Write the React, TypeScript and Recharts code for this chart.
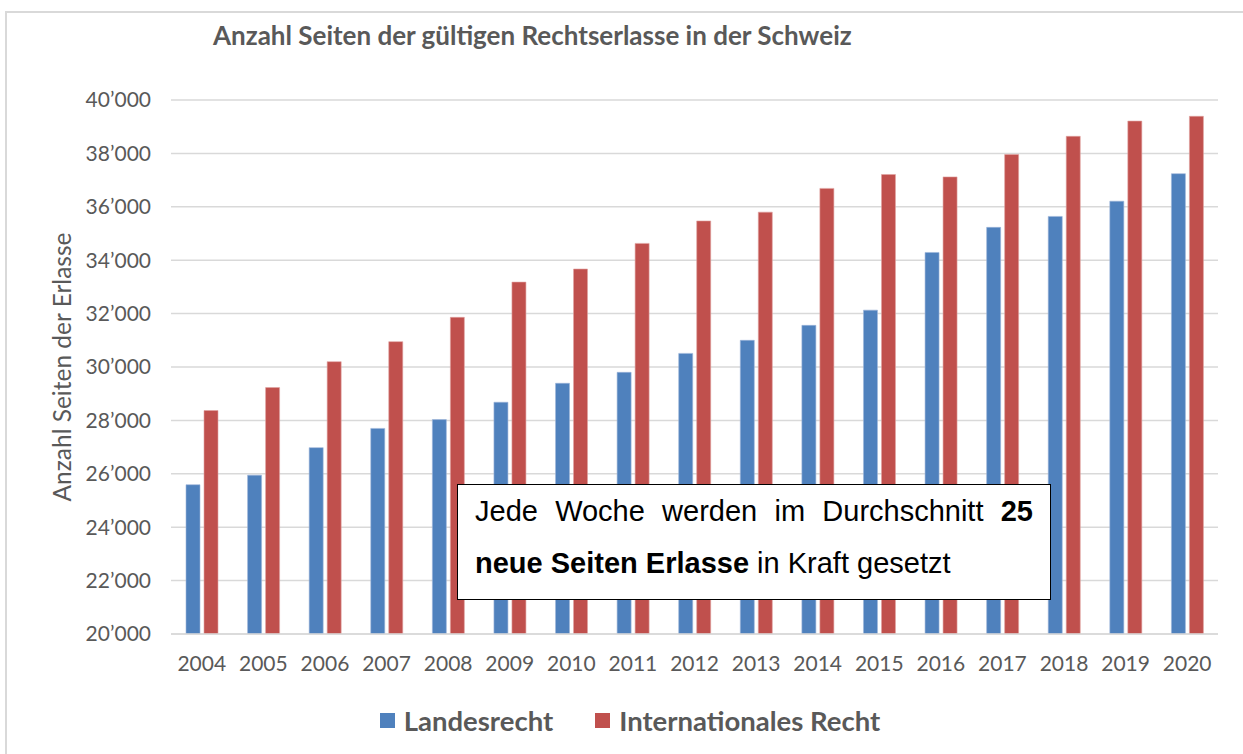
import React from 'react';
import {
  BarChart,
  Bar,
  XAxis,
  YAxis,
  CartesianGrid,
  Legend,
  Label
} from 'recharts';

// Jahre (Kategorien)
const years = ['2004', '2005', '2006', '2007', '2008', '2009', '2010', '2011', '2012', '2013', '2014', '2015', '2016', '2017', '2018', '2019', '2020'];

// Anzahl Seiten Landesrecht
const landesrecht = [25590, 25950, 26980, 27700, 28030, 28680, 29390, 29800, 30510, 31000, 31560, 32130, 34290, 35230, 35640, 36210, 37240];

// Anzahl Seiten Internationales Recht
const internationales = [28370, 29230, 30200, 30950, 31860, 33180, 33670, 34630, 35470, 35800, 36690, 37210, 37120, 37960, 38640, 39210, 39390];

const yTicks = [20000, 22000, 24000, 26000, 28000, 30000, 32000, 34000, 36000, 38000, 40000];

const seriesNames = ['Landesrecht', 'Internationales Recht'];

const data = years.map((year, i) => ({
  year,
  landesrecht: landesrecht[i],
  internationales: internationales[i]
}));

const GRAY = '#595959';
const BLUE = '#4F81BD';
const RED = '#C0504D';
const FONT = 'Lato, "Open Sans", sans-serif';

const fmt = (v: number) => {
  const s = String(Math.round(v));
  return s.replace(/\B(?=(\d{3})+(?!\d))/g, '\u2019');
};

const LegendContent = (props: any) => {
  const items = [...(props.payload || [])].sort(
    (a: any, b: any) => seriesNames.indexOf(a.value) - seriesNames.indexOf(b.value)
  );
  return (
    <div style={{ display: 'flex', justifyContent: 'center', alignItems: 'center', height: 30, gap: 42, fontFamily: FONT, paddingLeft: 42 }}>
      {items.map((p: any) => (
        <div key={p.value} style={{ display: 'flex', alignItems: 'center' }}>
          <span style={{ width: 15, height: 15, background: p.color, display: 'inline-block', marginRight: 9 }} />
          <span style={{ fontSize: 27.5, fontWeight: 700, color: GRAY }}>{p.value}</span>
        </div>
      ))}
    </div>
  );
};

export default function App() {
  return (
    <div style={{ position: 'absolute', left: 0, top: 0, width: 1243, height: 754, background: '#fff', overflow: 'hidden' }}>
      <div style={{ position: 'absolute', left: 5, top: 11, width: 1400, height: 900, border: '2px solid #D9D9D9' }} />
      <div style={{ position: 'absolute', left: 213, top: 19, fontFamily: FONT, fontWeight: 700, fontSize: 26, color: GRAY, whiteSpace: 'nowrap' }}>
        Anzahl Seiten der gültigen Rechtserlasse in der Schweiz
      </div>
      <div style={{ position: 'absolute', left: 0, top: 0 }}>
        <BarChart
          width={1243}
          height={754}
          data={data}
          margin={{ top: 100, right: 25, bottom: 19, left: 0 }}
          barSize={14}
          barGap={4}
        >
          <CartesianGrid vertical={false} stroke="#D9D9D9" strokeWidth={1.5} />
          <XAxis
            dataKey="year"
            height={71}
            tickLine={false}
            tickSize={0}
            tickMargin={22}
            axisLine={{ stroke: '#D9D9D9', strokeWidth: 1.5 }}
            tick={{ fill: GRAY, fontSize: 21, fontFamily: FONT }}
            interval={0}
          />
          <YAxis
            width={171}
            domain={[20000, 40000]}
            ticks={yTicks}
            tickFormatter={fmt}
            axisLine={false}
            tickLine={false}
            tickSize={0}
            tickMargin={20}
            tick={{ fill: GRAY, fontSize: 21, fontFamily: FONT }}
            allowDataOverflow
          >
            <Label
              value="Anzahl Seiten der Erlasse"
              angle={-90}
              position="insideLeft"
              offset={62}
              style={{ textAnchor: 'middle', fill: GRAY, fontSize: 24.5, fontFamily: FONT }}
            />
          </YAxis>
          <Legend verticalAlign="bottom" content={<LegendContent />} />
          <Bar dataKey="landesrecht" name="Landesrecht" fill={BLUE} stroke="#9DB6DA" strokeWidth={0.6} isAnimationActive={false} />
          <Bar dataKey="internationales" name="Internationales Recht" fill={RED} stroke="#E0A3A1" strokeWidth={0.6} isAnimationActive={false} />
        </BarChart>
      </div>
      <div
        style={{
          position: 'absolute',
          left: 457,
          top: 484,
          width: 558,
          height: 114,
          padding: '0 17px',
          background: '#fff',
          border: '1.5px solid #000',
          fontFamily: '"Liberation Sans", Arial, sans-serif',
          fontSize: 29,
          color: '#000',
          lineHeight: '52px',
          paddingTop: 0
        }}
      >
        <div style={{ textAlign: 'justify', textAlignLast: 'justify' }}>
          Jede Woche werden im Durchschnitt <b>25</b>
        </div>
        <div>
          <b>neue Seiten Erlasse</b> in Kraft gesetzt
        </div>
      </div>
    </div>
  );
}
